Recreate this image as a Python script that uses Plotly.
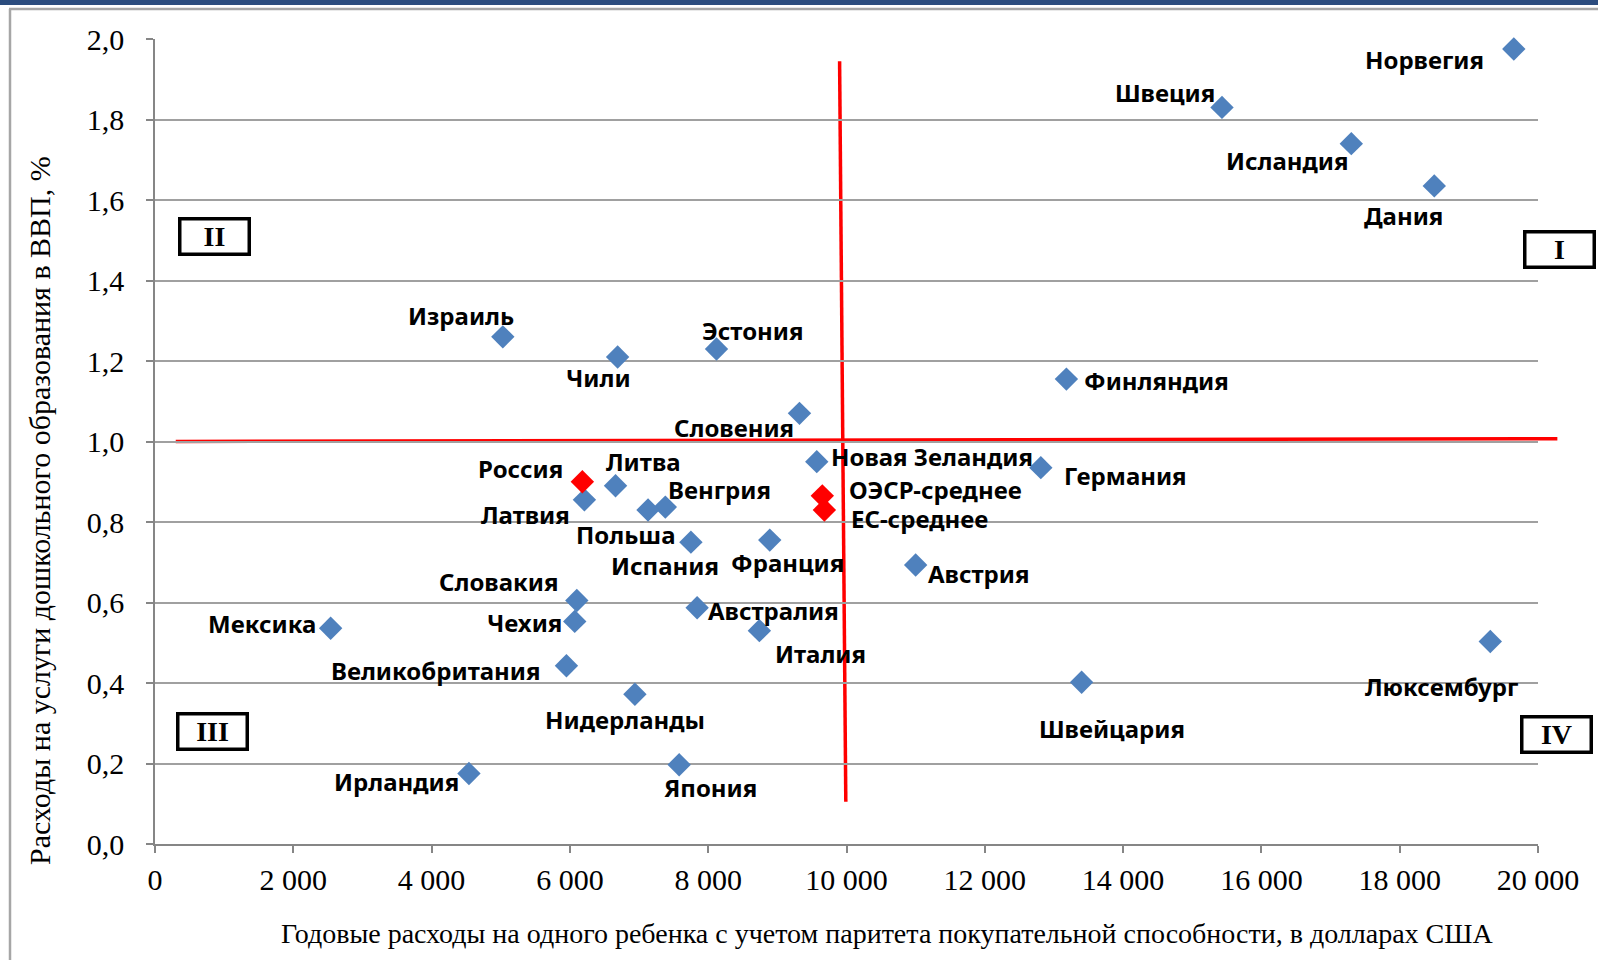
import plotly.graph_objects as go

# =============================================================================
# Data
# =============================================================================

COUNTRIES = [
    "Норвегия", "Швеция", "Исландия", "Дания", "Финляндия", "Израиль", "Чили",
    "Эстония", "Словения", "Новая Зеландия", "Германия", "Литва", "Латвия",
    "Венгрия", "Польша", "Испания", "Франция", "Австрия", "Словакия", "Чехия",
    "Австралия", "Италия", "Мексика", "Великобритания", "Нидерланды",
    "Швейцария", "Люксембург", "Ирландия", "Япония",
]
SPEND_PER_CHILD = [
    19650, 15430, 17300, 18500, 13180, 5030, 6690,
    8120, 9320, 9570, 12810, 6660, 6210,
    7380, 7130, 7750, 8890, 11000, 6100, 6070,
    7840, 8740, 2540, 5950, 6940,
    13400, 19310, 4540, 7580,
]
SHARE_GDP = [
    1.975, 1.83, 1.74, 1.635, 1.155, 1.26, 1.21,
    1.23, 1.07, 0.95, 0.935, 0.89, 0.855,
    0.837, 0.83, 0.75, 0.755, 0.693, 0.605, 0.553,
    0.587, 0.53, 0.536, 0.443, 0.372,
    0.402, 0.503, 0.175, 0.197,
]

REF_NAMES = ["Россия", "ОЭСР-среднее", "ЕС-среднее"]
REF_SPEND = [6180, 9650, 9680]
REF_SHARE = [0.90, 0.865, 0.83]

QUADRANTS = ["I", "II", "III", "IV"]

# quadrant split lines (hand drawn in the original, slightly tilted)
V_LINE_X = [9900, 9990]
V_LINE_Y = [1.945, 0.105]
H_LINE_X = [300, 20280]
H_LINE_Y = [1.0, 1.007]

X_MAX = 20000
Y_MAX = 2.0

X_TITLE = "Годовые расходы на одного ребенка с учетом паритета покупательной способности, в долларах США"
Y_TITLE = "Расходы на услуги дошкольного образования в ВВП, %"

# =============================================================================
# Layout / style
# =============================================================================

W, H = 1598, 960
ML, MR, MT, MB = 155, 60, 39, 116
PW, PH = W - ML - MR, H - MT - MB

BLUE = "#4F81BD"
RED = "#FF0000"
SERIF = "Liberation Serif, Times New Roman, serif"
SANS = "Noto Sans, Open Sans, sans-serif"


def px_x(px):
    return (px - ML) / PW


def px_y(py):
    return (H - MB - py) / PH


# label offsets from the marker, pixels (dx right, dy down)
LABEL_OFFSETS = {
    "Норвегия": (-89, 10), "Швеция": (-57, -15), "Исландия": (-64, 17),
    "Дания": (-31, 30), "Финляндия": (90, 1), "Израиль": (-42, -21),
    "Чили": (-19, 21), "Эстония": (36, -18), "Словения": (-65, 14),
    "Новая Зеландия": (115, -5), "Германия": (85, 8), "Литва": (28, -24),
    "Латвия": (-59, 15), "Венгрия": (54, -18), "Польша": (-22, 25),
    "Испания": (-26, 23), "Франция": (18, 22), "Австрия": (63, 8),
    "Словакия": (-78, -19), "Чехия": (-50, 1), "Австралия": (76, 3),
    "Италия": (61, 23), "Мексика": (-69, -5), "Великобритания": (-130, 5),
    "Нидерланды": (-10, 25), "Швейцария": (30, 46), "Люксембург": (-49, 45),
    "Ирландия": (-72, 8), "Япония": (31, 23),
    "Россия": (-62, -13), "ОЭСР-среднее": (113, -6), "ЕС-среднее": (95, 9),
}

# quadrant box centres, pixels
QUAD_POS = {"I": (1559, 249), "II": (214, 237), "III": (212, 731), "IV": (1557, 734)}

# =============================================================================
# Figure
# =============================================================================

fig = go.Figure()

fig.add_trace(go.Scatter(
    x=SPEND_PER_CHILD, y=SHARE_GDP, mode="markers",
    marker=dict(symbol="diamond", size=18, color=BLUE, line=dict(width=0)),
    cliponaxis=False, showlegend=False,
))
fig.add_trace(go.Scatter(
    x=REF_SPEND, y=REF_SHARE, mode="markers",
    marker=dict(symbol="diamond", size=18, color=RED, line=dict(width=0)),
    cliponaxis=False, showlegend=False,
))

annotations = []
for name, xv, yv in zip(COUNTRIES + REF_NAMES, SPEND_PER_CHILD + REF_SPEND, SHARE_GDP + REF_SHARE):
    dx, dy = LABEL_OFFSETS[name]
    annotations.append(dict(
        x=xv, y=yv, xref="x", yref="y", text=f"<b>{name}</b>", showarrow=False,
        xanchor="center", yanchor="middle",
        xshift=dx, yshift=-dy, font=dict(family=SANS, size=24, color="#000000"),
    ))

for q in QUADRANTS:
    cx, cy = QUAD_POS[q]
    annotations.append(dict(
        x=px_x(cx), y=px_y(cy), xref="paper", yref="paper", text=f"<b>{q}</b>",
        xanchor="center", yanchor="middle",
        showarrow=False, font=dict(family=SERIF, size=28, color="#000000"),
        width=66, height=32, borderpad=0, borderwidth=3.5, bordercolor="#000000",
        bgcolor="#FFFFFF",
    ))

annotations.append(dict(
    x=px_x(887), y=px_y(933), xref="paper", yref="paper", text=X_TITLE,
    xanchor="center", yanchor="middle",
    showarrow=False, font=dict(family=SERIF, size=28, color="#000000"),
))
annotations.append(dict(
    x=px_x(39), y=px_y(511), xref="paper", yref="paper", text=Y_TITLE,
    xanchor="center", yanchor="middle",
    showarrow=False, textangle=-90, font=dict(family=SERIF, size=30, color="#000000"),
))

shapes = [
    # navy strip at the top of the slide
    dict(type="rect", xref="paper", yref="paper", x0=px_x(-5), x1=px_x(W + 5),
         y0=px_y(5), y1=px_y(-5), fillcolor="#2B4C7E", line=dict(width=0), layer="below"),
    # chart frame (top and left edges visible)
    dict(type="line", xref="paper", yref="paper", x0=px_x(9), x1=px_x(W + 5),
         y0=px_y(9), y1=px_y(9), line=dict(color="#A6A6A6", width=2.5)),
    dict(type="line", xref="paper", yref="paper", x0=px_x(10), x1=px_x(10),
         y0=px_y(9), y1=px_y(H + 5), line=dict(color="#A6A6A6", width=2.5)),
    # quadrant split lines
    dict(type="line", xref="x", yref="y", x0=V_LINE_X[0], x1=V_LINE_X[1],
         y0=V_LINE_Y[0], y1=V_LINE_Y[1], line=dict(color=RED, width=3.5), layer="below"),
    dict(type="line", xref="paper", yref="y", x0=H_LINE_X[0] / X_MAX, x1=H_LINE_X[1] / X_MAX,
         y0=H_LINE_Y[0], y1=H_LINE_Y[1], line=dict(color=RED, width=3.5), layer="below"),
]

fig.update_layout(
    width=W, height=H,
    margin=dict(l=ML, r=MR, t=MT, b=MB, autoexpand=False),
    paper_bgcolor="#FFFFFF", plot_bgcolor="#FFFFFF",
    separators=", ",
    showlegend=False,
    annotations=annotations,
    shapes=shapes,
    xaxis=dict(
        range=[0, X_MAX], tickvals=list(range(0, X_MAX + 1, 2000)),
        tickformat=",d", separatethousands=True,
        showgrid=False, zeroline=False,
        showline=True, linecolor="#868686", linewidth=1.5,
        ticks="outside", ticklen=7, tickcolor="#868686", tickwidth=1.5,
        ticklabelstandoff=1,
        tickfont=dict(family=SERIF, size=30, color="#000000"),
    ),
    yaxis=dict(
        range=[0, Y_MAX], dtick=0.2, tickformat=".1f",
        showgrid=True, gridcolor="#A0A0A0", gridwidth=1.5, zeroline=False,
        showline=True, linecolor="#868686", linewidth=1.5,
        ticks="outside", ticklen=7, tickcolor="#868686", tickwidth=1.5,
        ticklabelstandoff=16,
        tickfont=dict(family=SERIF, size=30, color="#000000"),
    ),
)

# drop the default page margin so the figure sits at the window's top-left corner
fig.write_html(
    "out.html",
    config={"displayModeBar": False},
    post_script="document.body.style.margin = '0';",
)
